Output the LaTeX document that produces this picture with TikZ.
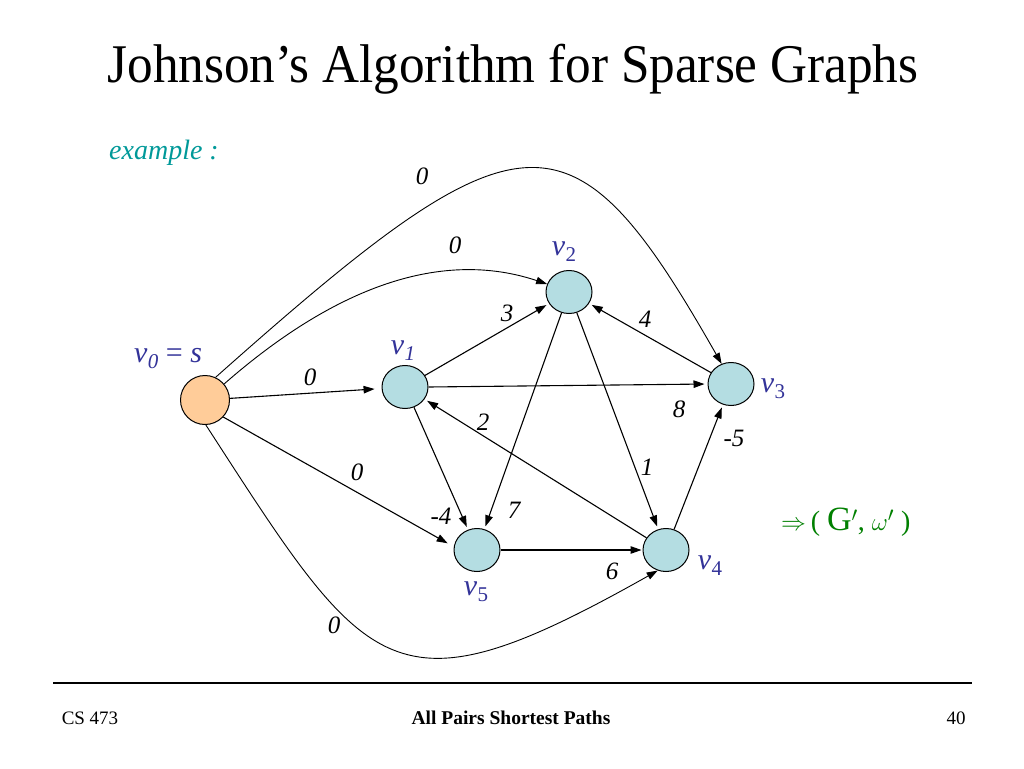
\documentclass[tikz,border=0pt]{standalone}
\usepackage{fontspec}
\setmainfont{Liberation Serif}
\usetikzlibrary{arrows.meta,shapes.geometric}
\definecolor{vfill}{RGB}{180,221,226}
\definecolor{sfill}{RGB}{255,204,153}
\definecolor{lblue}{RGB}{51,51,153}
\definecolor{exteal}{RGB}{0,153,153}
\definecolor{dgreen}{RGB}{0,128,0}
\newcommand{\vsubx}[1]{\textit{v}\kern0.5pt\raisebox{-6pt}{\fontsize{21}{21}\selectfont #1}}
\begin{document}
\begin{tikzpicture}[x=1pt,y=-1pt,
  vert/.style={ellipse,draw,line width=1pt,fill=vfill,minimum width=46pt,minimum height=43pt,inner sep=0pt},
  src/.style={circle,draw,line width=1pt,fill=sfill,minimum size=49pt,inner sep=0pt},
  edge/.style={line width=1.1pt,-{Triangle[length=11pt,width=7.5pt]},shorten >=3pt},
  curve/.style={line width=0.9pt,-{Triangle[length=11pt,width=7.5pt]}},
  wlab/.style={font=\fontsize{25}{25}\selectfont\itshape,inner sep=0pt},
  vlab/.style={text=lblue,font=\fontsize{30}{30}\selectfont,inner sep=0pt},
  foot/.style={font=\fontsize{19}{19}\selectfont,anchor=base,inner sep=0pt}]
\useasboundingbox (0,0) rectangle (1024,768);
\fill[white] (0,0) rectangle (1024,768);
% title
\node[anchor=base,inner sep=0pt] (title) at (513,82) {\scalebox{0.94}[1]{\fontsize{54.5}{54.5}\selectfont Johnson’s Algorithm for Sparse Graphs}};
\node[anchor=base west,inner sep=0pt,text=exteal,font=\fontsize{28}{28}\selectfont\itshape] (ex) at (109,159) {example :};
% vertices
\node[src] (s) at (205,400) {};
\node[vert] (v1) at (405,387) {};
\node[vert] (v2) at (569,292) {};
\node[vert] (v3) at (731,384) {};
\node[vert] (v4) at (666,550) {};
\node[vert] (v5) at (477,550) {};
% vertex labels
\node[vlab] (l0) at (168,359) {\vsubx{\textit{0}} = \textit{s}};
\node[vlab] (l1) at (403,351) {\vsubx{\textit{1}}};
\node[vlab] (l2) at (564,252) {\vsubx{2}};
\node[vlab] (l3) at (773,389) {\vsubx{3}};
\node[vlab] (l4) at (710,566) {\vsubx{4}};
\node[vlab] (l5) at (476,592) {\vsubx{5}};
% straight edges
\draw[edge,shorten >=7pt] (s) -- (v1);
\draw[edge,shorten >=7pt] (s.-43) -- (v5.172);
\draw[edge] (v1) -- (v2);
\draw[edge] (v1.east) -- (v3.west);
\draw[edge] (v1) -- (v5);
\draw[edge] (v2) -- (v5);
\draw[edge] (v2) -- (v4);
\draw[edge] (v3) -- (v2);
\draw[edge] (v4) -- (v3);
\draw[edge] (v4) -- (v1);
\draw[edge,shorten >=1pt] (v5) -- (v4);
% curved edges
\draw[curve] (s.65) .. controls (523,104) and (571,99) .. (v3.115);
\draw[curve] (s.40) .. controls (320,300) and (430,245) .. (v2.160);
\draw[curve] (s.272) .. controls (369,677) and (391,721) .. (v4.248);
% weights
\node[wlab] (w1) at (422,176) {0};
\node[wlab] (w2) at (455,245) {0};
\node[wlab] (w3) at (310,377) {0};
\node[wlab] (w4) at (357,472) {0};
\node[wlab] (w5) at (334,625) {0};
\node[wlab] (w6) at (507,313) {3};
\node[wlab] (w7) at (645,319) {4};
\node[wlab] (w8) at (679,409) {8};
\node[wlab] (w9) at (483,422) {2};
\node[wlab] (w10) at (647,467) {1};
\node[wlab] (w11) at (734,438) {-5};
\node[wlab] (w12) at (441,516) {-4};
\node[wlab] (w13) at (514,510) {7};
\node[wlab] (w14) at (612,571) {6};
% result
\node[anchor=west,inner sep=0pt,text=dgreen,font=\fontsize{28}{28}\selectfont] (res) at (781,522) {$\Rightarrow$\,( {\fontsize{34}{34}\selectfont G}$'$, $\omega'$ )};
% footer
\draw[line width=1.3pt] (53,683) coordinate (fl) -- (972,683) coordinate (fr);
\node[foot] (cs) at (90,724) {CS 473};
\node[foot,font=\fontsize{19.5}{19.5}\selectfont\bfseries] (ft) at (511,724) {All Pairs Shortest Paths};
\node[foot] (pg) at (956,724) {40};
\end{tikzpicture}
\end{document}
